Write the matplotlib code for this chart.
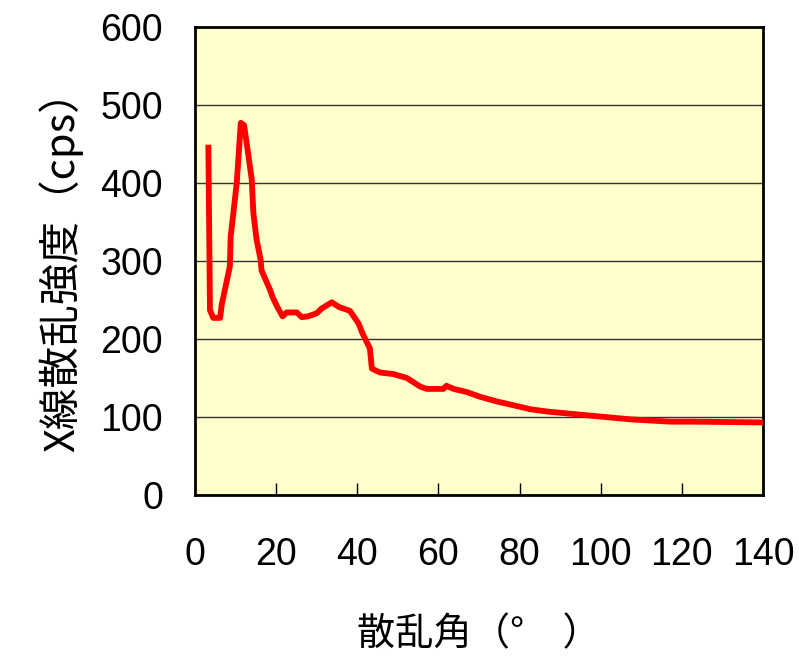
import matplotlib
matplotlib.use("Agg")
import matplotlib.pyplot as plt

plt.rcParams['font.family'] = ['Noto Sans CJK JP', 'DejaVu Sans']

# scattering angle (deg) and X-ray scattering intensity (cps)
angle = [3.3, 3.7, 4.5, 6.2, 6.6, 8.6, 8.8, 10.3, 11.3, 12.1, 13.1, 14.0, 14.4,
         15.2, 16.2, 16.4, 18.5, 19.1, 20.3, 21.6, 22.6, 25.1, 26.3, 27.9, 30.0,
         31.2, 33.7, 35.5, 38.2, 40.3, 41.3, 43.1, 43.6, 45.6, 48.9, 52.2, 55.5,
         57.1, 61.2, 62.0, 63.7, 67.0, 70.2, 74.3, 78.5, 82.6, 86.7, 90.8, 94.9,
         103.1, 107.2, 117.1, 122.8, 140.0]
intensity = [449, 237, 227, 227, 244, 293, 331, 400, 477, 474, 438, 404, 361,
             327, 301, 288, 263, 254, 241, 229, 234, 234, 228, 229, 233,
             239, 247, 241, 236, 220, 207, 188, 162, 157, 155, 150, 139,
             136, 136, 140, 136, 132, 126, 120, 115, 110, 107, 105, 103,
             99, 97, 94, 94, 93]

xticks = [0, 20, 40, 60, 80, 100, 120, 140]
yticks = [0, 100, 200, 300, 400, 500, 600]

fig = plt.figure(figsize=(7.99, 6.57), dpi=100)
ax = fig.add_axes([0.244, 0.2466, 0.711, 0.7124])
ax.set_facecolor('#FFFFCC')

ax.plot(angle, intensity, color='#FF0000', lw=4.2, solid_joinstyle='round',
        solid_capstyle='butt', zorder=3)

ax.set_xlim(0, 140)
ax.set_ylim(0, 600)
ax.set_xticks(xticks)
ax.set_yticks(yticks)
ax.yaxis.grid(True, color='#333333', lw=1.0)
ax.set_axisbelow(True)

for s in ax.spines.values():
    s.set_color('black')
    s.set_linewidth(2)

ax.tick_params(axis='x', direction='in', length=8.5, width=1, pad=30,
               labelsize=27)
ax.tick_params(axis='y', direction='in', length=0, pad=23, labelsize=27)
for lab in ax.get_xticklabels() + ax.get_yticklabels():
    lab.set_family(['Liberation Sans', 'DejaVu Sans'])

ax.set_xlabel('散乱角（°　）', fontsize=27.5, labelpad=31)
ax.set_ylabel('X線散乱強度（cps）', fontsize=30, labelpad=12)

fig.savefig('out.png', dpi=100)
